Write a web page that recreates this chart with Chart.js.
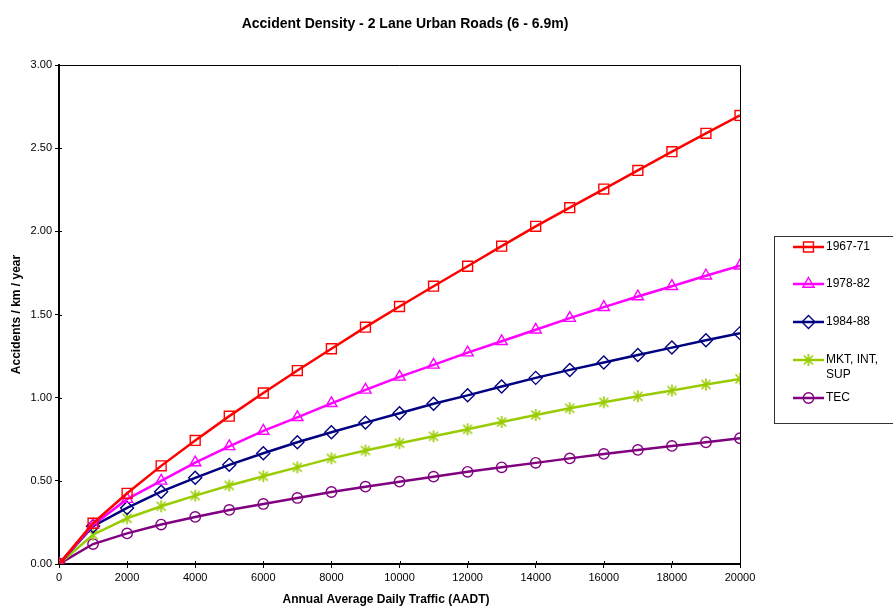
<!DOCTYPE html>
<html>
<head>
<meta charset="utf-8">
<script src="https://cdn.jsdelivr.net/npm/chart.js@4.4.1/dist/chart.umd.min.js"></script>
<style>
  html, body { margin: 0; padding: 0; background: #fff; }
  #wrap { width: 893px; height: 608px; }
</style>
</head>
<body>
<div id="wrap"><canvas id="accChart" width="893" height="608"></canvas></div>
<script>
// 차트 데이터
const chartTitle = 'Accident Density - 2 Lane Urban Roads (6 - 6.9m)';
const xTitle = 'Annual Average Daily Traffic (AADT)';
const yTitle = 'Accidents / km / year';

const aadt = [0, 1000, 2000, 3000, 4000, 5000, 6000, 7000, 8000, 9000, 10000,
              11000, 12000, 13000, 14000, 15000, 16000, 17000, 18000, 19000, 20000];

const seriesNames = ['1967-71', '1978-82', '1984-88', ['MKT, INT,', 'SUP'], 'TEC'];

const s1967 = [0, 0.245, 0.425, 0.590, 0.743, 0.889, 1.028, 1.163, 1.294, 1.424, 1.548,
               1.670, 1.790, 1.911, 2.030, 2.142, 2.254, 2.366, 2.479, 2.589, 2.697];
const s1978 = [0, 0.235, 0.390, 0.500, 0.610, 0.707, 0.800, 0.882, 0.966, 1.047, 1.125,
               1.197, 1.271, 1.339, 1.408, 1.478, 1.544, 1.608, 1.670, 1.733, 1.793];
const s1984 = [0, 0.227, 0.337, 0.435, 0.518, 0.596, 0.666, 0.732, 0.792, 0.850, 0.906,
               0.963, 1.014, 1.067, 1.119, 1.167, 1.211, 1.257, 1.301, 1.345, 1.388];
const sMkt  = [0, 0.176, 0.275, 0.347, 0.411, 0.472, 0.528, 0.581, 0.635, 0.682, 0.726,
               0.768, 0.810, 0.854, 0.896, 0.936, 0.972, 1.008, 1.043, 1.079, 1.113];
const sTec  = [0, 0.120, 0.184, 0.237, 0.283, 0.325, 0.361, 0.397, 0.433, 0.465, 0.495,
               0.525, 0.554, 0.581, 0.608, 0.635, 0.662, 0.686, 0.710, 0.732, 0.756];

const xMin = 0, xMax = 20000, xStep = 2000;
const yMin = 0, yMax = 3, yStep = 0.5;

const FONT = "'Liberation Sans', Arial, sans-serif";

// 엑셀식 별표 마커 (세로선 + X)
function makeStar(color) {
    const c = document.createElement('canvas');
    c.width = 14; c.height = 14;
    const g = c.getContext('2d');
    g.strokeStyle = color;
    g.lineWidth = 1.6;
    g.beginPath();
    g.moveTo(7, 1); g.lineTo(7, 13);
    g.moveTo(2.5, 2.5); g.lineTo(11.5, 11.5);
    g.moveTo(11.5, 2.5); g.lineTo(2.5, 11.5);
    g.stroke();
    return c;
}

function toPoints(values) {
    return values.map((v, i) => ({ x: aadt[i], y: v }));
}

function makeDataset(label, values, color, style, radius) {
    return {
        label: Array.isArray(label) ? label.join(' ') : label,
        legendLines: Array.isArray(label) ? label : [label],
        data: toPoints(values),
        borderColor: color,
        borderWidth: 2.5,
        pointStyle: style,
        pointRadius: radius,
        pointBorderColor: color,
        pointBorderWidth: 1.4,
        pointBackgroundColor: 'rgba(0,0,0,0)',
        tension: 0,
        fill: false,
    };
}

const datasets = [
    makeDataset(seriesNames[0], s1967, '#FF0000', 'rect', 7),
    makeDataset(seriesNames[1], s1978, '#FF00FF', 'triangle', 6.5),
    makeDataset(seriesNames[2], s1984, '#000080', 'rectRot', 6.5),
    makeDataset(seriesNames[3], sMkt, '#99CC00', makeStar('#99CC00'), 7),
    makeDataset(seriesNames[4], sTec, '#800080', 'circle', 5.2),
];

// 플롯 영역 테두리 + 제목 + 범례
const framePlugin = {
    id: 'frame',
    beforeDatasetsDraw(chart) {
        const { ctx, chartArea: a } = chart;
        ctx.save();
        ctx.strokeStyle = '#000';
        ctx.lineWidth = 1;
        ctx.beginPath();
        ctx.moveTo(a.left, a.top + 0.5);
        ctx.lineTo(a.right + 0.5, a.top + 0.5);
        ctx.lineTo(a.right + 0.5, a.bottom);
        ctx.stroke();
        // 눈금이 축선을 가로지르도록 안쪽으로 조금 연장
        chart.scales.x.ticks.forEach((t, i) => {
            const px = Math.round(chart.scales.x.getPixelForTick(i)) + 0.5;
            ctx.beginPath();
            ctx.moveTo(px, a.bottom - 3);
            ctx.lineTo(px, a.bottom);
            ctx.stroke();
        });
        chart.scales.y.ticks.forEach((t, i) => {
            const py = Math.round(chart.scales.y.getPixelForTick(i)) + 0.5;
            ctx.beginPath();
            ctx.moveTo(a.left, py);
            ctx.lineTo(a.left + 3, py);
            ctx.stroke();
        });
        ctx.restore();
    },
    afterDraw(chart) {
        const { ctx, chartArea: a } = chart;
        ctx.save();
        ctx.fillStyle = '#000';
        ctx.textAlign = 'center';
        ctx.textBaseline = 'middle';

        ctx.font = 'bold 14px ' + FONT;
        ctx.fillText(chartTitle, 405, 24);

        ctx.font = 'bold 12px ' + FONT;
        ctx.fillText(xTitle, 386, 600);

        ctx.save();
        ctx.translate(17, (a.top + a.bottom) / 2);
        ctx.rotate(-Math.PI / 2);
        ctx.fillText(yTitle, 0, 0);
        ctx.restore();

        // 범례 박스
        ctx.strokeStyle = '#333';
        ctx.lineWidth = 1;
        ctx.strokeRect(774.5, 236.5, 130, 187);

        const rows = [247, 284, 322, 360, 398];
        ctx.font = '12px ' + FONT;
        ctx.textAlign = 'left';
        chart.data.datasets.forEach((ds, i) => {
            const y = rows[i];
            ctx.strokeStyle = ds.borderColor;
            ctx.lineWidth = 2.5;
            ctx.beginPath();
            ctx.moveTo(793, y);
            ctx.lineTo(824, y);
            ctx.stroke();
            ctx.lineWidth = ds.pointBorderWidth;
            ctx.fillStyle = 'rgba(0,0,0,0)';
            Chart.helpers.drawPoint(ctx, { pointStyle: ds.pointStyle, radius: ds.pointRadius, rotation: 0, borderWidth: ds.pointBorderWidth }, 808.5, y);
            ctx.fillStyle = '#000';
            ds.legendLines.forEach((t, k) => ctx.fillText(t, 826, y + k * 15));
        });
        ctx.restore();
    }
};

const ctx = document.getElementById('accChart').getContext('2d');
new Chart(ctx, {
    type: 'line',
    data: { datasets },
    options: {
        responsive: false,
        animation: false,
        layout: { padding: { top: 65, right: 153, left: 0, bottom: 0 } },
        plugins: {
            legend: { display: false },
            title: { display: false },
            tooltip: { enabled: false },
        },
        scales: {
            x: {
                type: 'linear',
                min: xMin, max: xMax,
                ticks: {
                    stepSize: xStep, color: '#000', font: { family: FONT, size: 11 }, padding: 3, maxRotation: 0,
                    callback: v => String(v),
                },
                grid: { drawOnChartArea: false, drawTicks: true, tickLength: 4, color: '#000', lineWidth: 1 },
                border: { display: true, color: '#000', width: 2 },
                afterFit(scale) { scale.height = 44; },
            },
            y: {
                type: 'linear',
                min: yMin, max: yMax,
                ticks: {
                    stepSize: yStep, color: '#000', font: { family: FONT, size: 11 }, padding: 3,
                    callback: v => Number(v).toFixed(2),
                },
                grid: { drawOnChartArea: false, drawTicks: true, tickLength: 4, color: '#000', lineWidth: 1 },
                border: { display: true, color: '#000', width: 2 },
                afterFit(scale) { scale.width = 59; },
            },
        },
    },
    plugins: [framePlugin],
});
</script>
</body>
</html>
